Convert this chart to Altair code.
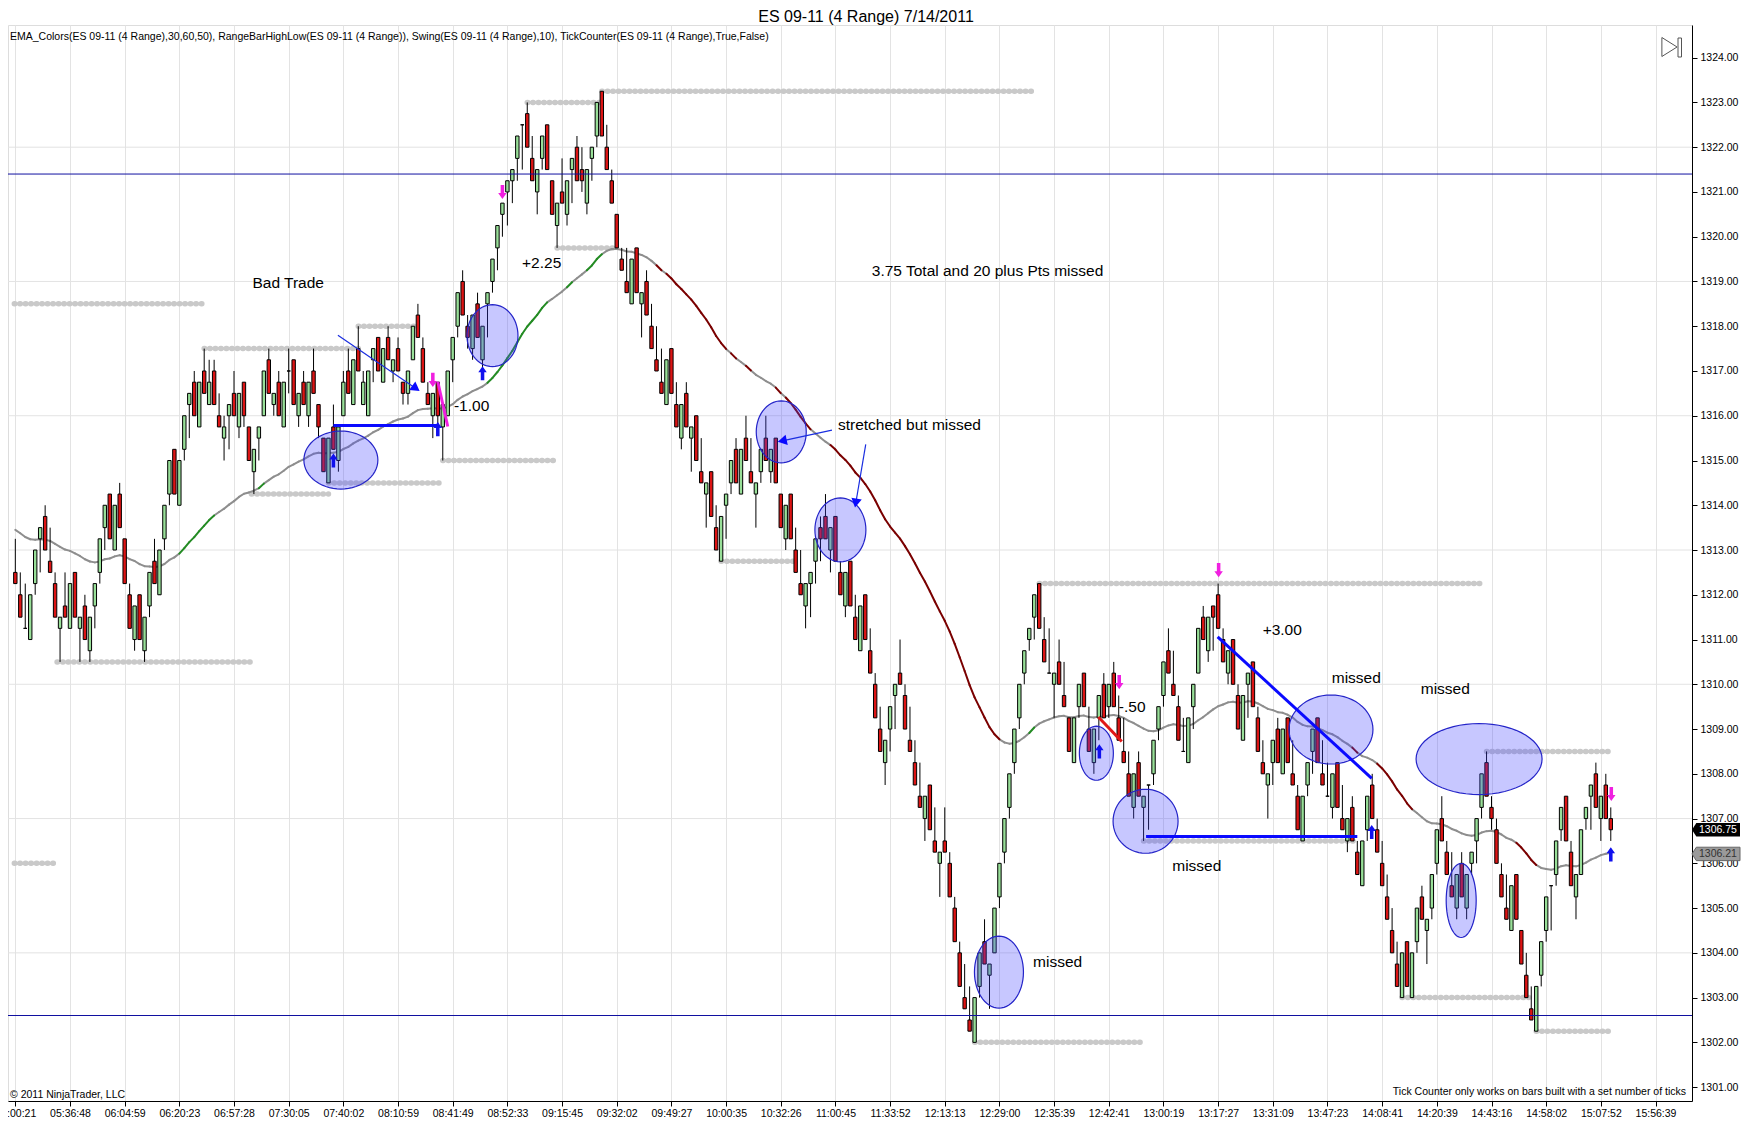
import math
import altair as alt
import pandas as pd

# ---------------- data (4-tick range bars) ----------------
opens = [
    1312.5, 1312, 1311.25, 1311, 1312.25, 1313.25, 1313.75, 1312.75, 1312.25, 1311.25,
    1311.75, 1311.25, 1312.5, 1311.25, 1311.75, 1310.75, 1311.75, 1312.5, 1313.5, 1314.25,
    1313, 1314.25, 1313.25, 1312, 1311, 1312, 1310.75, 1311.75, 1312.75, 1312,
    1313.25, 1314.25, 1315.25, 1314, 1315.25, 1316.25, 1316.75, 1315.75, 1317, 1316.25,
    1317, 1316, 1315.5, 1316, 1316.5, 1315.75, 1316.75, 1315.75, 1314.75, 1315.5,
    1316, 1317.25, 1316.25, 1316.75, 1315.75, 1317, 1317.25, 1316, 1316.75, 1316,
    1317, 1316.25, 1315.5, 1314.5, 1315.75, 1315, 1316, 1317, 1316.25, 1317.5,
    1316.25, 1316, 1317.25, 1317.75, 1316.75, 1317.75, 1317, 1317.5, 1316.75, 1316.5,
    1317.25, 1318.25, 1317.5, 1316.5, 1316, 1316.75, 1315.75, 1316, 1317.25, 1318,
    1319, 1318, 1317.5, 1318.5, 1317.25, 1318.5, 1319, 1319.75, 1320.5, 1321,
    1321.25, 1321.75, 1322.5, 1322.75, 1321.75, 1321, 1321.75, 1322.5, 1321.25, 1320.25,
    1321, 1320.5, 1321.5, 1322, 1321.5, 1320.75, 1321.75, 1322.25, 1323.25, 1322,
    1321.25, 1320.5, 1319.5, 1319, 1318.5, 1319.75, 1318.5, 1319, 1318, 1317.25,
    1316.75, 1316.25, 1317.5, 1316.25, 1315.5, 1316.5, 1315.5, 1316, 1314.75, 1314.25,
    1314.75, 1313.5, 1312.75, 1314, 1314.5, 1315.25, 1314.25, 1315.5, 1314.75, 1314.25,
    1314.75, 1315.5, 1314.75, 1315.5, 1314.25, 1313.25, 1314.25, 1313, 1312.25, 1311.75,
    1312.25, 1312.75, 1313.5, 1313.75, 1313, 1313.75, 1312.5, 1311.75, 1312.75, 1311.5,
    1310.75, 1312, 1310.75, 1310, 1309, 1308.25, 1309, 1309.75, 1310.25, 1309.75,
    1308.75, 1308.25, 1307.5, 1307, 1307.75, 1306.5, 1306, 1306.5, 1306, 1305,
    1304, 1303, 1302.5, 1302, 1303.25, 1304.25, 1303.5, 1304, 1305.25, 1306.25,
    1307.25, 1308.25, 1309.25, 1310.25, 1311, 1311.5, 1312.25, 1311, 1310.25, 1310,
    1310.5, 1309.75, 1309.25, 1308.25, 1309.5, 1310.25, 1309, 1308.25, 1309.25, 1310,
    1309.5, 1310.25, 1309.25, 1308.5, 1308, 1307.25, 1308.25, 1307.25, 1307.75, 1308,
    1309, 1309.75, 1310.75, 1310, 1309.5, 1308.5, 1308.25, 1309.5, 1310.25, 1311.5,
    1310.75, 1311.75, 1312, 1311, 1310.25, 1311, 1309.75, 1308.75, 1310, 1310.5,
    1309.25, 1308.25, 1307.75, 1308.25, 1309, 1308, 1309.25, 1308, 1307.5, 1306.5,
    1307.75, 1308.5, 1309.25, 1308, 1307.5, 1307.25, 1308.25, 1307, 1306.5, 1307.25,
    1306.25, 1305.5, 1306.75, 1307.75, 1306.75, 1306, 1305.25, 1304.5, 1303.75, 1303,
    1304.25, 1303, 1304.25, 1305.25, 1304.5, 1305, 1306, 1307, 1306.25, 1305.5,
    1305, 1306, 1305, 1306, 1306.5, 1307.25, 1308.25, 1307.25, 1306.75, 1305.75,
    1305, 1304.5, 1305.75, 1304.5, 1303.5, 1302.75, 1302.25, 1303.5, 1304.5, 1305.5,
    1305.75, 1306.75, 1307.5, 1306.25, 1305.25, 1305.75, 1307, 1307.5, 1308, 1307,
    1307.75, 1307,
]
highs = [
    1313.25, 1312.5, 1312.25, 1312, 1313, 1313.5, 1314, 1313.5, 1312.5, 1311.5,
    1312.5, 1312.25, 1312.5, 1311.5, 1312, 1311.5, 1312.25, 1313.25, 1314, 1314.25,
    1314, 1314.5, 1313.25, 1312.25, 1311.75, 1312, 1311.5, 1312.5, 1313.25, 1313,
    1314, 1315, 1315.25, 1315, 1316, 1316.5, 1317, 1316.75, 1317.5, 1317.25,
    1317.25, 1316.5, 1316, 1316.25, 1317, 1316.5, 1316.75, 1315.75, 1315.25, 1315.75,
    1317, 1317.5, 1316.5, 1317, 1316.75, 1317.5, 1317.25, 1316.5, 1317, 1316.75,
    1317.5, 1316.25, 1315.5, 1315.5, 1316.25, 1315.75, 1317, 1317.5, 1317.25, 1318,
    1317, 1317, 1317.5, 1317.75, 1317.5, 1318, 1317.25, 1317.75, 1316.75, 1317,
    1318, 1318.5, 1317.75, 1316.75, 1316.5, 1316.75, 1316.25, 1317, 1317.75, 1318.75,
    1319.25, 1318.25, 1318.25, 1318.75, 1318, 1318.75, 1319.5, 1320.25, 1320.75, 1321.25,
    1321.5, 1322.25, 1322.5, 1323, 1322.25, 1321.5, 1322.25, 1322.5, 1321.25, 1320.75,
    1321.75, 1321.25, 1321.75, 1322.25, 1322, 1321.5, 1322, 1323, 1323.25, 1322.5,
    1321.5, 1320.5, 1319.75, 1319.75, 1319.5, 1319.75, 1318.75, 1319.25, 1318.5, 1318,
    1317.5, 1317.25, 1317.5, 1316.75, 1316.25, 1316.75, 1315.75, 1316, 1315.5, 1314.5,
    1314.75, 1314, 1313.75, 1314.25, 1315, 1315.5, 1315.25, 1316, 1315.5, 1314.5,
    1315.25, 1316, 1315.25, 1315.5, 1314.25, 1314, 1314.25, 1313.5, 1313, 1312.25,
    1312.5, 1313.25, 1313.75, 1314.25, 1313.5, 1313.75, 1312.75, 1312.5, 1312.75, 1312,
    1311.75, 1312, 1311.25, 1310.25, 1309.5, 1308.75, 1309.5, 1310, 1311, 1310,
    1309.5, 1308.75, 1308.25, 1307.5, 1307.75, 1307.25, 1306.25, 1307.25, 1306.25, 1305.25,
    1304.25, 1303.75, 1303.25, 1303, 1304, 1304.75, 1303.75, 1305, 1306, 1307,
    1308, 1309, 1310, 1310.75, 1311.25, 1312, 1312.25, 1311.5, 1311.25, 1310.25,
    1311, 1310.5, 1309.25, 1309.25, 1310, 1310.25, 1309.5, 1309, 1309.75, 1310.25,
    1310, 1310.5, 1309.75, 1309.25, 1308.5, 1308, 1308.5, 1307.5, 1307.75, 1308.75,
    1309.5, 1310.5, 1311.25, 1310.75, 1309.75, 1309.25, 1309.25, 1310, 1311.25, 1311.75,
    1311.5, 1311.75, 1312.25, 1311.25, 1310.75, 1311, 1310, 1309.75, 1310.25, 1310.5,
    1309.5, 1308.75, 1308, 1308.75, 1309.25, 1309, 1309.25, 1308.75, 1307.75, 1307.5,
    1308.25, 1309, 1309.25, 1308.75, 1308.25, 1308, 1308.25, 1307.75, 1307, 1307.5,
    1306.5, 1306.5, 1307.5, 1308, 1307, 1306.5, 1305.75, 1305, 1304.25, 1304,
    1304.25, 1304, 1305, 1305.5, 1304.75, 1305.75, 1306.75, 1307.5, 1306.5, 1306.25,
    1305.75, 1306.25, 1305.75, 1306.25, 1307, 1308, 1308.5, 1307.5, 1307, 1306,
    1305.75, 1305.5, 1305.75, 1304.5, 1304, 1303.25, 1303.25, 1304.25, 1305.25, 1305.5,
    1306.5, 1307.25, 1307.5, 1306.5, 1305.75, 1306.75, 1307.25, 1307.75, 1308.25, 1307.5,
    1308, 1307.25,
]
lows = [
    1312.25, 1311.5, 1311.25, 1311, 1312, 1312.5, 1313, 1312.5, 1311.5, 1310.5,
    1311.5, 1311.25, 1311.5, 1310.5, 1311, 1310.5, 1311.25, 1312.25, 1313, 1313.25,
    1313, 1313.5, 1312.25, 1311.25, 1310.75, 1311, 1310.5, 1311.5, 1312.25, 1312,
    1313, 1314, 1314.25, 1314, 1315, 1315.5, 1316, 1315.75, 1316.5, 1316.25,
    1316.25, 1315.75, 1315, 1315.25, 1316, 1315.5, 1315.75, 1315, 1314.25, 1315,
    1316, 1316.5, 1316, 1316, 1315.75, 1316.5, 1316.25, 1315.75, 1316.25, 1315.75,
    1316.5, 1315.5, 1314.75, 1314.5, 1315.25, 1314.75, 1316, 1316.5, 1316.25, 1317,
    1316.25, 1316, 1316.75, 1317, 1316.75, 1317.25, 1316.75, 1317, 1316.25, 1316.25,
    1317.25, 1317.75, 1316.75, 1316.25, 1315.5, 1315.75, 1315, 1316, 1316.75, 1317.75,
    1318.25, 1317.5, 1317.25, 1317.75, 1317, 1317.75, 1318.75, 1319.25, 1320, 1320.25,
    1320.75, 1321.25, 1321.5, 1322, 1321.25, 1320.5, 1321.5, 1321.5, 1320.5, 1319.75,
    1320.75, 1320.25, 1320.75, 1321.25, 1321, 1320.5, 1321.25, 1322, 1322.25, 1321.5,
    1320.75, 1319.75, 1319.25, 1318.75, 1318.5, 1318.75, 1317.75, 1318.25, 1317.5, 1317,
    1316.5, 1316.25, 1316.5, 1315.75, 1315.25, 1315.75, 1314.75, 1315, 1314.5, 1313.5,
    1313.75, 1313, 1312.75, 1313.25, 1314.25, 1314.5, 1314.25, 1315, 1314.5, 1313.5,
    1314.5, 1315, 1314.5, 1314.5, 1313.5, 1313, 1313.25, 1312.5, 1312, 1311.25,
    1311.5, 1312.25, 1312.75, 1313.25, 1312.5, 1312.75, 1312, 1311.5, 1311.75, 1311,
    1310.75, 1311, 1310.25, 1309.25, 1308.5, 1307.75, 1308.5, 1309, 1310, 1309,
    1308.5, 1307.75, 1307.25, 1306.5, 1306.75, 1306.25, 1305.25, 1306.25, 1305.25, 1304.25,
    1303.25, 1302.75, 1302.25, 1302, 1303, 1303.75, 1302.75, 1304, 1305, 1306,
    1307, 1308, 1309, 1310, 1310.75, 1311, 1311.25, 1310.5, 1310.25, 1309.25,
    1310, 1309.5, 1308.5, 1308.25, 1309.25, 1309.5, 1308.5, 1308, 1308.75, 1309.25,
    1309.25, 1309.5, 1308.75, 1308.25, 1307.5, 1307, 1307.5, 1306.5, 1306.75, 1307.75,
    1308.75, 1309.5, 1310.25, 1309.75, 1308.75, 1308.5, 1308.25, 1309, 1310.25, 1311,
    1310.5, 1310.75, 1311.25, 1310.5, 1310, 1310, 1309, 1308.75, 1309.25, 1309.5,
    1308.5, 1308, 1307, 1307.75, 1308.25, 1308, 1308.25, 1307.75, 1306.75, 1306.5,
    1307.5, 1308, 1308.25, 1307.75, 1307.5, 1307, 1307.25, 1306.75, 1306.25, 1306.5,
    1305.75, 1305.5, 1306.5, 1307, 1306.25, 1305.5, 1304.75, 1304, 1303.25, 1303,
    1303.25, 1303, 1304, 1304.75, 1303.75, 1304.75, 1305.75, 1306.5, 1305.75, 1305.25,
    1304.75, 1305.25, 1304.75, 1305.75, 1306, 1307, 1307.5, 1306.75, 1306, 1305.25,
    1304.75, 1304.5, 1304.75, 1303.75, 1303, 1302.5, 1302.25, 1303.25, 1304.25, 1304.5,
    1305.5, 1306.5, 1306.5, 1305.5, 1304.75, 1305.75, 1306.75, 1306.75, 1307.25, 1306.5,
    1307, 1306.5,
]
closes = [
    1312.25, 1311.5, 1311.25, 1312, 1313, 1313.5, 1313, 1312.5, 1311.5, 1311.5,
    1311.5, 1312.25, 1311.5, 1311.5, 1311, 1311.5, 1312.25, 1313.25, 1314, 1313.25,
    1314, 1313.5, 1312.25, 1311.25, 1311.75, 1311, 1311.5, 1312.5, 1312.25, 1313,
    1314, 1315, 1314.25, 1315, 1316, 1316.5, 1316, 1316.75, 1316.5, 1316.75,
    1316.25, 1315.75, 1315.75, 1316.25, 1316, 1316.5, 1316, 1315, 1315.25, 1315.75,
    1317, 1316.5, 1316.5, 1316, 1316.75, 1317, 1316.25, 1316.5, 1316.25, 1316.75,
    1316.5, 1315.75, 1314.75, 1315.5, 1315.25, 1315.75, 1316.75, 1316.5, 1317.25, 1317,
    1316.75, 1317, 1317.5, 1317, 1317.5, 1317.25, 1317.25, 1317, 1316.5, 1317,
    1318, 1317.75, 1316.75, 1316.25, 1316.5, 1316, 1316.25, 1317, 1317.75, 1318.75,
    1318.25, 1317.75, 1318.25, 1317.75, 1318, 1318.75, 1319.5, 1320.25, 1320.75, 1321.25,
    1321.5, 1322.25, 1322.5, 1322, 1321.25, 1321.5, 1322.25, 1321.5, 1320.5, 1320.75,
    1320.75, 1321.25, 1321.75, 1321.25, 1321.25, 1321.5, 1322, 1323, 1322.25, 1321.5,
    1320.75, 1319.75, 1319.25, 1318.75, 1319.5, 1318.75, 1318.75, 1318.25, 1317.5, 1317,
    1316.5, 1317.25, 1316.5, 1315.75, 1316.25, 1315.75, 1315.75, 1315, 1314.5, 1314.5,
    1313.75, 1313, 1313.75, 1314.25, 1315, 1314.5, 1315.25, 1315, 1314.5, 1314.5,
    1315.25, 1315, 1315.25, 1314.5, 1313.5, 1314, 1313.25, 1312.5, 1312, 1312.25,
    1312.5, 1313.25, 1313.25, 1313.25, 1313.5, 1312.75, 1312, 1312.5, 1311.75, 1311,
    1311.75, 1311, 1310.25, 1309.25, 1308.5, 1308.75, 1309.5, 1310, 1310, 1309,
    1308.5, 1307.75, 1307.25, 1307.5, 1306.75, 1306.25, 1306.25, 1306.25, 1305.25, 1304.25,
    1303.25, 1302.75, 1302.25, 1303, 1304, 1303.75, 1303.75, 1305, 1306, 1307,
    1308, 1309, 1310, 1310.75, 1311.25, 1312, 1311.25, 1310.5, 1310.25, 1310.25,
    1310, 1309.5, 1308.5, 1309.25, 1310, 1309.5, 1308.5, 1309, 1309.75, 1309.25,
    1310, 1309.5, 1308.75, 1308.25, 1307.5, 1308, 1307.5, 1307.5, 1307.75, 1308.75,
    1309.5, 1310.5, 1310.25, 1309.75, 1308.75, 1308.5, 1309.25, 1310, 1311.25, 1311,
    1311.5, 1311.5, 1311.25, 1310.5, 1310.75, 1310, 1309, 1309.75, 1310.25, 1309.5,
    1308.5, 1308, 1308, 1308.75, 1308.25, 1309, 1308.25, 1307.75, 1306.75, 1307.5,
    1308.25, 1309, 1308.25, 1307.75, 1307.5, 1308, 1307.25, 1306.75, 1307, 1306.5,
    1305.75, 1306.5, 1307.5, 1307, 1306.25, 1305.5, 1304.75, 1304, 1303.25, 1304,
    1303.25, 1304, 1305, 1304.75, 1304.75, 1305.75, 1306.75, 1306.5, 1305.75, 1305.25,
    1305.75, 1305.25, 1305.75, 1306.25, 1307, 1308, 1307.5, 1307, 1306, 1305.25,
    1304.75, 1305.5, 1304.75, 1303.75, 1303, 1302.5, 1303.25, 1304.25, 1305.25, 1305.5,
    1306.5, 1307.25, 1306.5, 1305.5, 1305.75, 1306.75, 1307.25, 1307.75, 1307.25, 1307.5,
    1307, 1306.75,
]
assert len(opens) == len(highs) == len(lows) == len(closes) == 322

time_labels = ["05:00:21", "05:36:48", "06:04:59", "06:20:23", "06:57:28", "07:30:05",
               "07:40:02", "08:10:59", "08:41:49", "08:52:33", "09:15:45", "09:32:02",
               "09:49:27", "10:00:35", "10:32:26", "11:00:45", "11:33:52", "12:13:13",
               "12:29:00", "12:35:39", "12:42:41", "13:00:19", "13:17:27", "13:31:09",
               "13:47:23", "14:08:41", "14:20:39", "14:43:16", "14:58:02", "15:07:52",
               "15:56:39"]
tick_bars = [1, 12, 23, 34, 45, 56, 67, 78, 89, 100, 111, 122, 133, 144, 155, 166,
             177, 188, 199, 210, 221, 232, 243, 254, 265, 276, 287, 298, 309, 320, 331]
price_ticks = list(range(1301, 1325))
grid_prices = [1304, 1307, 1310, 1313, 1316, 1319, 1322]
level_prices = [1321.4, 1302.6]

# swing (RangeBarHighLow / Swing) levels: price, first bar, last bar
swing_price = [1318.5, 1306.0, 1310.5, 1317.5, 1314.25, 1318.0, 1314.5, 1315.0, 1323.0,
               1323.25, 1319.75, 1312.75, 1302.0, 1312.25, 1306.5, 1303.0, 1308.5, 1302.25]
swing_start = [0.8, 0.8, 9.4, 39, 48.5, 70, 64, 87, 104, 119, 110, 143, 194, 207, 228, 280, 297, 307]
swing_end = [39, 9.4, 48.5, 70, 64, 81.5, 87, 110, 119, 206.3, 122, 158, 227.5, 296.6, 271, 305.5, 321.5, 321.5]

ema_period = 50
ema_first = 1313.5  # EMA level read at the first bar

# annotations (bar, price)
note_text = ["Bad Trade", "+2.25", "-1.00", "3.75 Total and 20 plus Pts missed",
             "stretched  but missed", "missed", "-.50", "+3.00", "missed", "missed", "missed"]
note_bar = [55.9, 106.9, 92.8, 196.6, 180.9, 210.7, 225.7, 255.9, 270.8, 238.7, 288.7]
note_price = [1318.96, 1319.41, 1316.22, 1319.23, 1315.8, 1303.79, 1309.5, 1311.21, 1310.13,
              1305.94, 1309.89]

ell_bar = [66.5, 97.0, 155.1, 167.0, 198.9, 218.5, 228.4, 265.7, 295.5, 291.9]
ell_price = [1315.01, 1317.79, 1315.64, 1313.45, 1303.57, 1308.46, 1306.94, 1308.99, 1308.33, 1305.17]
ell_rx = [37, 25.5, 25, 25.5, 24.5, 17, 32.5, 42, 63, 15]
ell_ry = [29, 31, 31, 32, 36, 27, 32, 34.5, 35.5, 37]

thick_x = [65.0, 242.9, 228.5]
thick_x2 = [86.1, 273.9, 271.0]
thick_y = [1315.78, 1311.06, 1306.6]
thick_y2 = [1315.78, 1307.9, 1306.6]

thin_x = [65.9, 165.3, 172.1]
thin_x2 = [81.6, 155.3, 170.1]
thin_y = [1317.8, 1315.68, 1315.36]
thin_y2 = [1316.61, 1315.44, 1314.05]
head_angle = [126, 258, 190]

red_seg = [(218.9, 1309.27, 223.6, 1308.72)]
pink_seg = [(86.0, 1316.76, 88.0, 1315.76)]

up_arrow_bar = [65.0, 86.0, 95.0, 219.1, 273.9, 322.0]
up_arrow_price = [1315.0, 1315.7, 1316.95, 1308.5, 1306.7, 1306.2]
down_arrow_bar = [99.0, 85.0, 243.1, 223.1, 322.1]
down_arrow_price = [1321.0, 1316.8, 1312.55, 1310.05, 1307.55]

last_price = 1306.75
ema_tag = 1306.21

# ---------------- derived tables ----------------
bars = list(range(1, len(closes) + 1))
candles = pd.DataFrame({"bar": bars, "open": opens, "high": highs, "low": lows, "close": closes})
candles["lo"] = candles[["open", "close"]].min(axis=1)
candles["hi"] = candles[["open", "close"]].max(axis=1)
up_c = candles[candles.close > candles.open]
dn_c = candles[candles.close < candles.open]
fl_c = candles[candles.close == candles.open]

alpha = 2.0 / (ema_period + 1)
ema = []
prev = ema_first
for c in closes:
    prev = prev + alpha * (c - prev)
    ema.append(prev)
seg = pd.DataFrame({"x": bars[:-1], "x2": bars[1:], "y": ema[:-1], "y2": ema[1:]})
seg["d"] = seg.y2 - seg.y
TH = 0.10
seg_up = seg[seg.d > TH]
seg_dn = seg[seg.d < -TH]
seg_fl = seg[(seg.d <= TH) & (seg.d >= -TH)]

swings = pd.DataFrame({"p": swing_price, "s": swing_start, "e": swing_end})
notes = pd.DataFrame({"bar": note_bar, "price": note_price, "t": note_text})


def ellipse_path(rx, ry, n=60):
    m = max(rx, ry)
    a, b = rx / m, ry / m
    pts = [f"{a*math.cos(2*math.pi*k/n):.4f},{b*math.sin(2*math.pi*k/n):.4f}" for k in range(n)]
    return "M" + "L".join(pts) + "Z"


ells = pd.DataFrame({"bar": ell_bar, "price": ell_price,
                     "path": [ellipse_path(a, b) for a, b in zip(ell_rx, ell_ry)],
                     "size": [(2 * max(a, b)) ** 2 for a, b in zip(ell_rx, ell_ry)]})
thick = pd.DataFrame({"x": thick_x, "x2": thick_x2, "y": thick_y, "y2": thick_y2})
thin = pd.DataFrame({"x": thin_x, "x2": thin_x2, "y": thin_y, "y2": thin_y2, "ang": head_angle})
reds = pd.DataFrame(red_seg, columns=["x", "y", "x2", "y2"])
pinks = pd.DataFrame(pink_seg, columns=["x", "y", "x2", "y2"])
ups = pd.DataFrame({"bar": up_arrow_bar, "price": up_arrow_price})
dns = pd.DataFrame({"bar": down_arrow_bar, "price": down_arrow_price})
levels = pd.DataFrame({"p": level_prices})
grids = pd.DataFrame({"p": grid_prices})
one = pd.DataFrame({"a": [0]})

# ---------------- styling ----------------
FONT = "Liberation Sans"
GREEN = "#98df98"
RED = "#dc1414"
xs = alt.Scale(domain=[0.533, 337.333], nice=False, zero=False)
ys = alt.Scale(domain=[1300.69, 1324.73], nice=False, zero=False)

lab_arr = "[" + ",".join(f"'{t}'" for t in time_labels) + "]"
tick_arr = "[" + ",".join(str(t) for t in tick_bars) + "]"
x_axis = alt.Axis(values=tick_bars, labelExpr=f"{lab_arr}[indexof({tick_arr}, datum.value)]",
                  grid=True, gridColor="#e3e3e3", gridWidth=1, tickSize=5, tickColor="black",
                  domainColor="black", labelFont=FONT, labelFontSize=10.5, labelColor="black",
                  labelPadding=2, labelFlush=False, labelOverlap=False, title=None)
y_axis = alt.Axis(orient="right", values=price_ticks, format=".2f", grid=False, tickSize=5,
                  tickColor="black", domainColor="black", labelFont=FONT, labelFontSize=10.5,
                  labelColor="black", labelPadding=3, labelFlush=False, labelOverlap=False,
                  title=None)


def X(f):
    return alt.X(f"{f}:Q", scale=xs, axis=x_axis, title=None)


def Y(f):
    return alt.Y(f"{f}:Q", scale=ys, axis=y_axis, title=None)


layers = []
layers.append(alt.Chart(grids).mark_rule(color="#e3e3e3", strokeWidth=1).encode(
    y=Y("p"), x=alt.value(0), x2=alt.value(1684)))
layers.append(alt.Chart(swings).mark_rule(color="#c9c9c9", strokeWidth=5.5, strokeCap="round",
                                          strokeDash=[0.5, 5]).encode(
    x=X("s"), x2="e:Q", y=Y("p")))
for d, col in ((seg_fl, "#8e8e8e"), (seg_up, "#238b23"), (seg_dn, "#7a0000")):
    layers.append(alt.Chart(d).mark_rule(color=col, strokeWidth=2, strokeCap="round").encode(
        x=X("x"), x2="x2:Q", y=Y("y"), y2="y2:Q"))
layers.append(alt.Chart(candles).mark_rule(color="black", strokeWidth=1).encode(
    x=X("bar"), y=Y("low"), y2="high:Q"))
for d, col in ((up_c, GREEN), (dn_c, RED), (fl_c, "black")):
    layers.append(alt.Chart(d).mark_bar(size=3.4, fill=col, stroke="black", strokeWidth=1).encode(
        x=X("bar"), y=Y("lo"), y2="hi:Q"))
layers.append(alt.Chart(levels).mark_rule(color="#1010a0", strokeWidth=1).encode(
    y=Y("p"), x=alt.value(0), x2=alt.value(1684)))
layers.append(alt.Chart(ells).mark_point(filled=True, fill="#4646ff", fillOpacity=0.3,
                                         stroke="#2424c8", strokeWidth=1.2, strokeOpacity=1,
                                         opacity=1).encode(
    x=X("bar"), y=Y("price"), shape=alt.Shape("path:N", scale=None),
    size=alt.Size("size:Q", scale=None)))
layers.append(alt.Chart(thick).mark_rule(color="#0a0aff", strokeWidth=3).encode(
    x=X("x"), x2="x2:Q", y=Y("y"), y2="y2:Q"))
layers.append(alt.Chart(reds).mark_rule(color="#e01818", strokeWidth=3).encode(
    x=X("x"), x2="x2:Q", y=Y("y"), y2="y2:Q"))
layers.append(alt.Chart(pinks).mark_rule(color="#f020e0", strokeWidth=3).encode(
    x=X("x"), x2="x2:Q", y=Y("y"), y2="y2:Q"))
layers.append(alt.Chart(thin).mark_rule(color="#1a2ee0", strokeWidth=1.2).encode(
    x=X("x"), x2="x2:Q", y=Y("y"), y2="y2:Q"))
layers.append(alt.Chart(thin).mark_point(shape="triangle-up", filled=True, color="#0a0aff",
                                         size=110, opacity=1).encode(
    x=X("x2"), y=Y("y2"), angle=alt.Angle("ang:Q", scale=None)))
UP = "M0,-1L0.6,-0.15L0.25,-0.15L0.25,1L-0.25,1L-0.25,-0.15L-0.6,-0.15Z"
DN = "M0,1L0.6,0.15L0.25,0.15L0.25,-1L-0.25,-1L-0.25,0.15L-0.6,0.15Z"
layers.append(alt.Chart(ups).mark_point(shape=UP, filled=True, color="#1010ee", size=200,
                                        opacity=1).encode(x=X("bar"), y=Y("price")))
layers.append(alt.Chart(dns).mark_point(shape=DN, filled=True, color="#f020e0", size=200,
                                        opacity=1).encode(x=X("bar"), y=Y("price")))
layers.append(alt.Chart(notes).mark_text(font=FONT, fontSize=15.5, color="black").encode(
    x=X("bar"), y=Y("price"), text="t:N"))

# header / footer texts and chrome (pixel positions relative to the plot area)
layers.append(alt.Chart(one).mark_text(font=FONT, fontSize=16, color="black").encode(
    x=alt.value(858), y=alt.value(-8.5), text=alt.value("ES 09-11 (4 Range)  7/14/2011")))
layers.append(alt.Chart(one).mark_text(font=FONT, fontSize=10.5, color="black", align="left").encode(
    x=alt.value(2), y=alt.value(12),
    text=alt.value("EMA_Colors(ES 09-11 (4 Range),30,60,50), RangeBarHighLow(ES 09-11 (4 Range)), "
                   "Swing(ES 09-11 (4 Range),10), TickCounter(ES 09-11 (4 Range),True,False)")))
layers.append(alt.Chart(one).mark_text(font=FONT, fontSize=10.5, color="black", align="left").encode(
    x=alt.value(2), y=alt.value(1070), text=alt.value("© 2011 NinjaTrader, LLC")))
layers.append(alt.Chart(one).mark_text(font=FONT, fontSize=10.5, color="black", align="right").encode(
    x=alt.value(1678), y=alt.value(1067),
    text=alt.value("Tick Counter only works on bars built with a set number of ticks")))
layers.append(alt.Chart(one).mark_point(shape="M-0.75,-1L0.85,0L-0.75,1Z", filled=False,
                                        color="#555555", size=361, strokeWidth=1, opacity=1).encode(
    x=alt.value(1661), y=alt.value(22)))
layers.append(alt.Chart(one).mark_rect(fill="white", stroke="#555555", strokeWidth=1).encode(
    x=alt.value(1670), x2=alt.value(1673.5), y=alt.value(13), y2=alt.value(32)))
TAG = "M-1,0L-0.82,-0.28L1,-0.28L1,0.28L-0.82,0.28Z"
tags = pd.DataFrame({"p": [last_price, ema_tag], "t": [f"{last_price:.2f}", f"{ema_tag:.2f}"],
                     "k": ["last", "ema"]})
layers.append(alt.Chart(tags[tags.k == "last"]).mark_point(shape=TAG, filled=True, color="black",
                                                           size=2304, opacity=1).encode(
    x=alt.value(1708), y=Y("p")))
layers.append(alt.Chart(tags[tags.k == "ema"]).mark_point(shape=TAG, filled=True, color="#9a9a9a",
                                                          size=2304, opacity=1, stroke="#666666",
                                                          strokeWidth=1).encode(
    x=alt.value(1708), y=Y("p")))
layers.append(alt.Chart(tags[tags.k == "last"]).mark_text(font=FONT, fontSize=10.5, color="white",
                                                          align="left").encode(
    x=alt.value(1691), y=Y("p"), text="t:N"))
layers.append(alt.Chart(tags[tags.k == "ema"]).mark_text(font=FONT, fontSize=10.5, color="#333333",
                                                         align="left").encode(
    x=alt.value(1691), y=Y("p"), text="t:N"))

chart = alt.layer(*layers).properties(
    width=1684, height=1076,
    padding={"left": 0, "top": 17, "right": 50, "bottom": 30},
    autosize=alt.AutoSizeParams(type="none"),
).configure_view(stroke="black", strokeWidth=1).configure(background="white")

chart.save("out.html", embed_options={"renderer": "svg", "actions": False})
